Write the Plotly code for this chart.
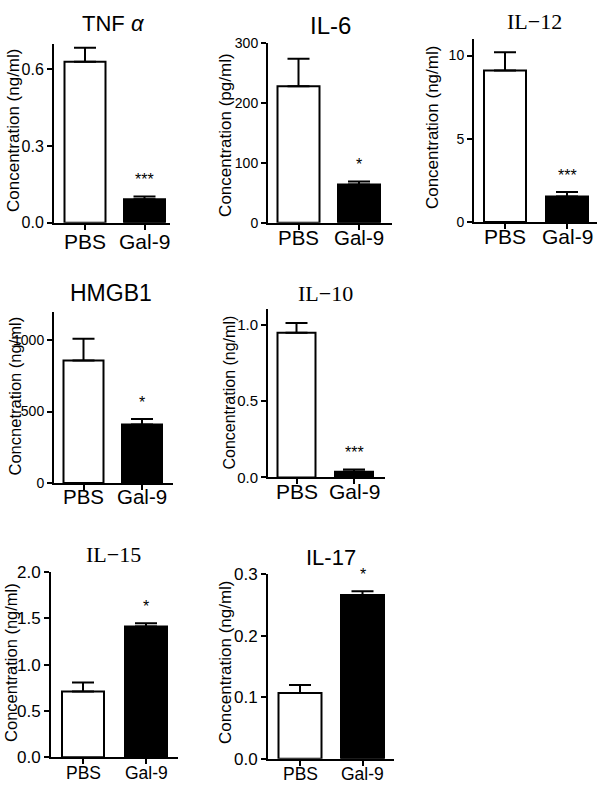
import plotly.graph_objects as go

# ---------------- data ----------------
categories = ["PBS", "Gal-9"]
cytokines = ["TNF <i>α</i>", "IL-6", "IL−12", "HMGB1", "IL−10", "IL−15", "IL-17"]
y_titles = ["Concentration (ng/ml)", "Concentration (pg/ml)", "Concentration (ng/ml)",
            "Concnetration (ng/ml)", "Concentration (ng/ml)", "Concentration (ng/ml)",
            "Concentration (ng/ml)"]
pbs_mean = [0.63, 228, 9.1, 858, 0.946, 0.71, 0.107]
pbs_sem = [0.055, 46, 1.1, 152, 0.064, 0.097, 0.013]
gal9_mean = [0.092, 64, 1.53, 410, 0.038, 1.41, 0.266]
gal9_sem = [0.011, 5, 0.27, 39, 0.015, 0.036, 0.006]
significance = ["***", "*", "***", "*", "***", "*", "*"]
y_max = [0.7, 300, 11, 1200, 1.1, 2.0, 0.3]
y_ticks = [[0, 0.3, 0.6], [0, 100, 200, 300], [0, 5, 10], [0, 500, 1000],
           [0, 0.5, 1.0], [0, 0.5, 1.0, 1.5, 2.0], [0, 0.1, 0.2, 0.3]]
y_tick_fmt = [".1f", "d", "d", "d", ".1f", ".1f", ".1f"]

# ---------------- layout (pixel positions in a 600x792 page) ----------------
W, H = 600, 792
SANS = "Liberation Sans, Arial, sans-serif"
SERIF = "Liberation Serif, DejaVu Serif, serif"
panels = [
    dict(l=54, r=170, t=35.8, b=219, cp=85, cg=144.5, bw=41, tx=113, ty=15, ts=22, tf=SANS,
         yx=13, yy=125, ys=17, tick=16, xl=21, xo=19.5),
    dict(l=268, r=392, t=35, b=219, cp=298.5, cg=359, bw=42, tx=330, ty=17, ts=24, tf=SANS,
         yx=226, yy=130, ys=17, tick=14, xl=20.5, xo=15),
    dict(l=474, r=597, t=30.6, b=218.3, cp=505, cg=567, bw=42, tx=534, ty=13, ts=22, tf=SERIF,
         yx=432, yy=122, ys=17, tick=14, xl=21, xo=15),
    dict(l=54, r=173, t=310, b=485.7, cp=83.5, cg=142, bw=40, tx=111, ty=291, ts=23, tf=SANS,
         yx=15, yy=397, ys=16.5, tick=14, xl=20.5, xo=14),
    dict(l=268, r=385, t=307.6, b=480, cp=296.5, cg=354, bw=38, tx=325, ty=291, ts=22, tf=SERIF,
         yx=230, yy=393, ys=16, tick=15, xl=21, xo=14.5),
    dict(l=51, r=178, t=576.7, b=766.7, cp=83, cg=146, bw=42, tx=113, ty=559, ts=22, tf=SERIF,
         yx=11, yy=670, ys=16.5, tick=17, xl=17.5, xo=16),
    dict(l=268, r=394, t=579, b=768.3, cp=300, cg=362.5, bw=43, tx=331, ty=562, ts=22, tf=SANS,
         yx=226, yy=670, ys=17, tick=17, xl=17.5, xo=15),
]

fig = go.Figure()
annotations = []
layout_axes = {}

for i, p in enumerate(panels):
    n = i + 1
    xs = "x" if n == 1 else f"x{n}"
    ys_ = "y" if n == 1 else f"y{n}"
    xkey = "xaxis" if n == 1 else f"xaxis{n}"
    ykey = "yaxis" if n == 1 else f"yaxis{n}"
    sep = p["cg"] - p["cp"]
    x0 = -(p["cp"] - p["l"]) / sep
    x1 = (p["r"] - p["cp"]) / sep
    bw = p["bw"] / sep

    fig.add_trace(go.Bar(
        x=categories, y=[pbs_mean[i], gal9_mean[i]],
        width=[bw, bw],
        marker=dict(color=["white", "black"], line=dict(color="black", width=2)),
        error_y=dict(type="data", symmetric=False,
                     array=[pbs_sem[i], gal9_sem[i]], arrayminus=[0, 0],
                     color="black", thickness=2, width=11),
        xaxis=xs, yaxis=ys_, showlegend=False, hoverinfo="skip",
    ))

    layout_axes[xkey] = dict(
        domain=[p["l"] / W, p["r"] / W], anchor=ys_, type="category",
        categoryorder="array", categoryarray=categories,
        range=[x0, x1], showline=True, linecolor="black", linewidth=2,
        ticks="outside", ticklen=5, tickwidth=2, tickcolor="black",
        showticklabels=False,
        showgrid=False, zeroline=False, fixedrange=True,
    )
    fmt = y_tick_fmt[i]
    layout_axes[ykey] = dict(
        domain=[1 - p["b"] / H, 1 - p["t"] / H], anchor=xs,
        range=[0, y_max[i]], tickmode="array", tickvals=y_ticks[i],
        ticktext=[format(v, fmt) if fmt != "d" else str(int(v)) for v in y_ticks[i]],
        showline=True, linecolor="black", linewidth=2,
        ticks="outside", ticklen=5, tickwidth=2, tickcolor="black",
        tickfont=dict(family=SANS, size=p["tick"], color="black"),
        showgrid=False, zeroline=False, fixedrange=True,
    )

    # category labels under the x axis
    for c in categories:
        annotations.append(dict(
            text=c, x=c, xref=xs, y=1 - (p["b"] + p["xo"]) / H, yref="paper",
            xanchor="center", yanchor="middle", showarrow=False,
            font=dict(family=SANS, size=p["xl"], color="black"),
        ))
    # panel title
    annotations.append(dict(
        text=cytokines[i], x=p["tx"] / W, y=1 - p["ty"] / H, xref="paper", yref="paper",
        xanchor="center", yanchor="middle", showarrow=False,
        font=dict(family=p["tf"], size=p["ts"], color="black"),
    ))
    # y-axis title
    annotations.append(dict(
        text=y_titles[i], x=p["yx"] / W, y=1 - p["yy"] / H, xref="paper", yref="paper",
        xanchor="center", yanchor="middle", textangle=-90, showarrow=False,
        font=dict(family=SANS, size=p["ys"], color="black"),
    ))
    # significance marker
    annotations.append(dict(
        text=significance[i], x=categories[1], y=gal9_mean[i] + gal9_sem[i],
        xref=xs, yref=ys_, xanchor="center", yanchor="bottom", yshift=6,
        showarrow=False, font=dict(family=SANS, size=16, color="black"),
    ))

fig.update_layout(
    width=W, height=H, margin=dict(l=0, r=0, t=0, b=0),
    paper_bgcolor="white", plot_bgcolor="white",
    annotations=annotations, bargap=0, **layout_axes,
)

fig.write_html("out.html",
               config={"displayModeBar": False, "staticPlot": True},
               post_script="document.body.style.margin='0';document.body.style.overflow='hidden';")
